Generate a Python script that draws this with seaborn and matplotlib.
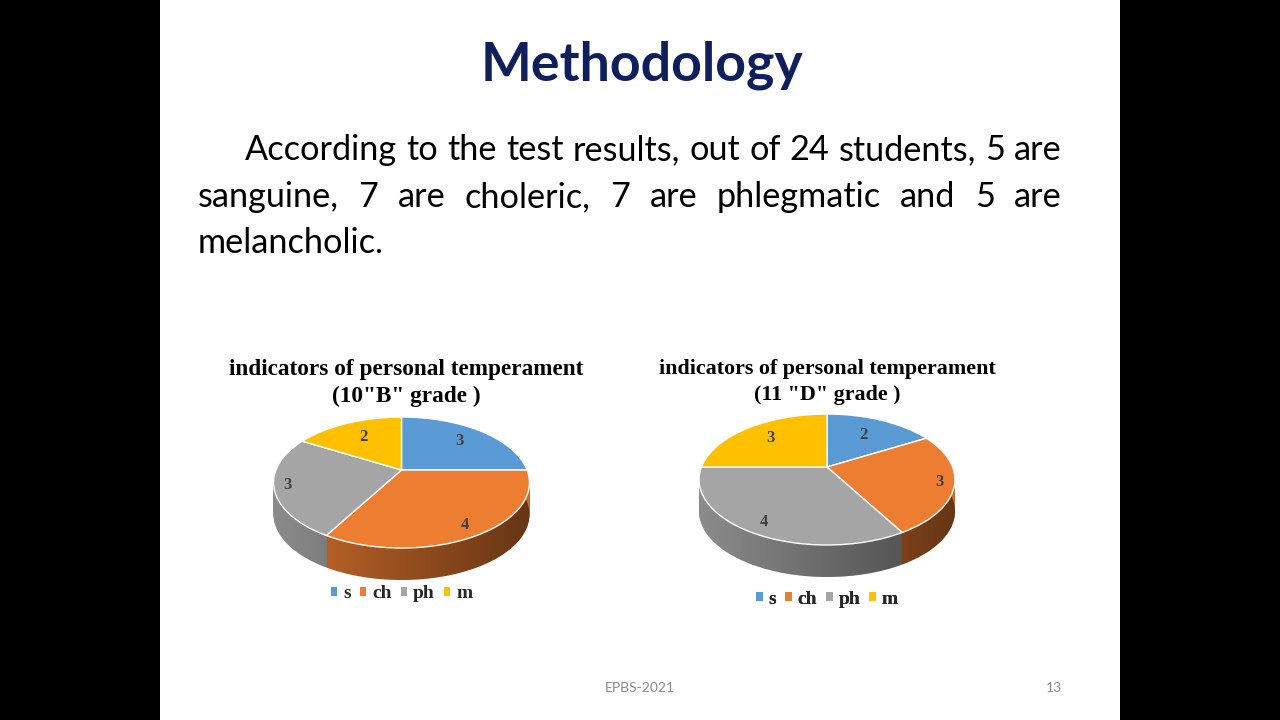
import numpy as np
import matplotlib
matplotlib.use('Agg')
import matplotlib.pyplot as plt
import matplotlib.transforms as mtransforms
from matplotlib.patches import Polygon, Rectangle
import seaborn as sns

# values
categories = ['s', 'ch', 'ph', 'm']
counts_10b = [3, 4, 3, 2]
counts_11d = [2, 3, 4, 3]
title_top = 'indicators of personal temperament'
title_10b = '(10"B" grade )'
title_11d = '(11 "D" grade )'

heading = 'Methodology'
para_line1 = 'According to the test results, out of 24 students, 5 are'
para_line2 = 'sanguine, 7 are choleric, 7 are phlegmatic and 5 are'
para_line3 = 'melancholic.'
footer = 'EPBS-2021'
page_no = '13'

palette = sns.color_palette(['#5B9BD5', '#ED7D31', '#A5A5A5', '#FFC000'])
side_palette = [tuple(c * 0.85 for c in col) for col in palette]

sns.set_theme(style='white')
plt.rcParams['font.family'] = ['Lato', 'DejaVu Sans']
SERIF = ['Liberation Serif', 'DejaVu Serif']

W, H = 1280, 720
fig = plt.figure(figsize=(12.8, 7.2), dpi=100, facecolor='black')
bg = fig.add_axes([0, 0, 1, 1])
bg.set_xlim(0, W)
bg.set_ylim(H, 0)
bg.axis('off')
bg.add_patch(Rectangle((160, 0), 960, 720, facecolor='white', edgecolor='none'))
renderer = fig.canvas.get_renderer()


def text_width(s, size, **kw):
    t = bg.text(0, 0, s, fontsize=size, **kw)
    w = t.get_window_extent(renderer).width
    t.remove()
    return w


def fit_size(s, target, **kw):
    return 20 * target / text_width(s, 20, **kw)


def justified(words, x0, x1, y, size, **kw):
    widths = [text_width(wd, size, **kw) for wd in words]
    gap = (x1 - x0 - sum(widths)) / (len(words) - 1)
    x = x0
    for wd, w in zip(words, widths):
        bg.text(x, y, wd, fontsize=size, va='baseline', **kw)
        x += w + gap


# slide text
size_h = fit_size(heading, 323, fontweight='bold')
bg.text(642, 80, heading, fontsize=size_h, fontweight='bold', color='#0F1F5C',
        ha='center', va='baseline')

size_p = fit_size(para_line1, 816)
justified(para_line1.split(), 245, 1062, 160, size_p, color='black')
justified(para_line2.split(), 198, 1062, 207, size_p, color='black')
bg.text(198, 253, para_line3, fontsize=size_p, color='black', va='baseline')

size_f = fit_size(footer, 70)
bg.text(640, 692, footer, fontsize=size_f, color='#8C8C8C', ha='center', va='baseline')
bg.text(1062, 692, page_no, fontsize=size_f, color='#8C8C8C', ha='right', va='baseline')


class Tilt(mtransforms.Transform):
    """unit-disc pie space -> pixel space, seen from above at an angle"""
    input_dims = 2
    output_dims = 2
    is_separable = False

    def __init__(self, cx, cy, drop=0.0, rx=125.6, ry=63.1, k=0.191):
        super().__init__()
        self.cx, self.cy, self.drop = cx, cy, drop
        self.rx, self.ry, self.k = rx, ry, k

    def transform_non_affine(self, values):
        xy = np.asarray(values, dtype=float).reshape(-1, 2)
        s = 1.0 / (1.0 + self.k * xy[:, 1])
        return np.column_stack([self.cx + self.rx * xy[:, 0] * s,
                                self.cy + self.drop - self.ry * xy[:, 1] * s])


pax = fig.add_axes([0, 0, 1, 1])
DEPTH = 32


def draw_pie(counts, cx, cy, label_r, sub, title_x, title_w, title_y, legend_y):
    # disc side: stacked copies, deepest first
    for d in range(DEPTH, 0, -1):
        wedges, _ = pax.pie(counts, colors=side_palette, startangle=90,
                            counterclock=False, wedgeprops=dict(linewidth=0))
        for w in wedges:
            w.set_transform(Tilt(cx, cy, d) + pax.transData)
            w.set_zorder(1)

    # shading of the side, darker to the right
    ang = np.radians(np.linspace(165, 375, 160))
    ring = np.column_stack([np.cos(ang), np.sin(ang)])
    band = Polygon(np.vstack([Tilt(cx, cy).transform(ring),
                              Tilt(cx, cy, DEPTH).transform(ring)[::-1]]),
                   closed=True, transform=pax.transData)
    ramp = np.zeros((1, 256, 4))
    ramp[..., 3] = np.linspace(0.0, 0.5, 256)
    im = pax.imshow(ramp, extent=(cx - 130, cx + 130, cy + 110, cy - 60),
                    zorder=2, interpolation='bilinear')
    im.set_clip_path(band)

    # top face
    top = Tilt(cx, cy)
    wedges, _ = pax.pie(counts, colors=palette, startangle=90, counterclock=False,
                        wedgeprops=dict(edgecolor='white', linewidth=1.0))
    for w, r, v in zip(wedges, label_r, counts):
        w.set_transform(top + pax.transData)
        w.set_zorder(3)
        mid = np.radians((w.theta1 + w.theta2) / 2)
        pax.text(r * np.cos(mid), r * np.sin(mid), str(v), transform=top + pax.transData,
                 ha='center', va='center', fontsize=12, fontweight='bold',
                 color='#404040', family=SERIF, zorder=4)

    size_t = fit_size(title_top, title_w, family=SERIF, fontweight='bold')
    for line, y in zip([title_top, sub], title_y):
        bg.text(title_x, y, line, fontsize=size_t, family=SERIF, fontweight='bold',
                color='black', ha='center', va='baseline')

    leg = pax.legend(wedges, categories, ncol=4, loc='center',
                     bbox_to_anchor=(cx, legend_y), bbox_transform=pax.transData,
                     frameon=False, prop=dict(family=SERIF, weight='bold', size=14),
                     handlelength=0.35, handleheight=0.35, handletextpad=0.3,
                     columnspacing=0.45, borderpad=0, borderaxespad=0)
    for h in leg.legend_handles:
        h.set_linewidth(0)
    pax.add_artist(leg)


draw_pie(counts_10b, 401.5, 470, [0.72, 0.86, 0.90, 0.67], title_10b,
         406.5, 355, [375, 402], 594)
draw_pie(counts_11d, 827, 467, [0.64, 0.89, 0.86, 0.70], title_11d,
         827.5, 335, [374, 400], 599)

pax.set_xlim(0, W)
pax.set_ylim(H, 0)
pax.set_aspect('auto')
pax.axis('off')

fig.savefig('out.png', dpi=100, facecolor='black')
